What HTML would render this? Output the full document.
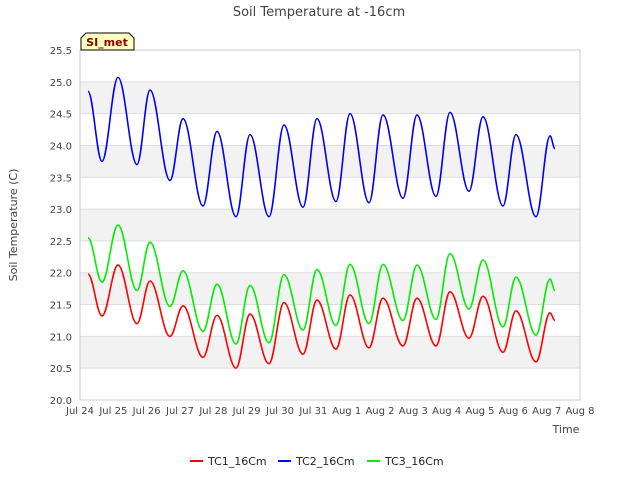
<!DOCTYPE html>
<html><head><meta charset="utf-8"><style>
body{margin:0;background:#fff;}
svg{display:block;font-family:"DejaVu Sans","Liberation Sans",sans-serif;}
</style></head><body>
<svg id="chart" width="640" height="480">
<text x="319" y="16" text-anchor="middle" font-size="13" fill="#444">Soil Temperature at -16cm</text>
<g id="bands"></g><g id="grid"></g>
<rect x="80" y="50" width="500" height="350" fill="none" stroke="#ccc"/>
<g id="series"></g><g id="axes"></g>
<text x="17" y="225" transform="rotate(-90 17 225)" text-anchor="middle" font-size="11" fill="#444">Soil Temperature (C)</text>
<text x="566" y="433" text-anchor="middle" font-size="11" fill="#444">Time</text>
<g>
<path d="M81,50 L81,38 L86,33 L129,33 L134,38 L134,50 Z" fill="#ffffc0" stroke="#000"/>
<text x="107" y="46" text-anchor="middle" font-size="11" font-weight="bold" fill="#8b0000">SI_met</text>
</g>
<g id="legend"></g>
</svg>
<script>
const times=[0.24,0.66,1.14,1.71,2.1,2.7,3.09,3.69,4.11,4.68,5.1,5.67,6.12,6.69,7.11,7.68,8.1,8.67,9.09,9.69,10.11,10.68,11.1,11.67,12.09,12.69,13.08,13.68,14.1,14.25];
const tc1=[21.98,21.32,22.12,21.2,21.87,21.0,21.48,20.67,21.33,20.5,21.35,20.57,21.53,20.72,21.57,20.8,21.65,20.82,21.6,20.85,21.6,20.85,21.7,20.97,21.63,20.75,21.4,20.6,21.37,21.25];
const tc2=[24.85,23.75,25.07,23.7,24.87,23.45,24.42,23.05,24.22,22.88,24.17,22.88,24.32,23.03,24.42,23.12,24.5,23.1,24.48,23.17,24.48,23.2,24.52,23.28,24.45,23.05,24.17,22.88,24.15,23.95];
const tc3=[22.55,21.85,22.75,21.72,22.48,21.47,22.03,21.08,21.82,20.88,21.8,20.9,21.97,21.1,22.05,21.17,22.13,21.2,22.13,21.25,22.12,21.27,22.3,21.43,22.2,21.15,21.93,21.02,21.9,21.72];
const yTicks=[20.0,20.5,21.0,21.5,22.0,22.5,23.0,23.5,24.0,24.5,25.0,25.5];
const xLabels=["Jul 24","Jul 25","Jul 26","Jul 27","Jul 28","Jul 29","Jul 30","Jul 31","Aug 1","Aug 2","Aug 3","Aug 4","Aug 5","Aug 6","Aug 7","Aug 8"];
const seriesNames=["TC1_16Cm","TC2_16Cm","TC3_16Cm"];
const seriesColors=["#ff0000","#0000ff","#00ee00"];
const NS="http://www.w3.org/2000/svg";
const X=d=>80+d*500/15, Y=v=>400-(v-20)*350/5.5;
function mk(t,a,p){const e=document.createElementNS(NS,t);for(const k in a)e.setAttribute(k,a[k]);p.appendChild(e);return e;}
const bands=document.getElementById('bands'),grid=document.getElementById('grid'),axes=document.getElementById('axes');
yTicks.forEach((v,i)=>{
 if(i<yTicks.length-1&&i%2==1){const r=mk('rect',{x:80,y:Y(v+0.5),width:500,height:Y(v)-Y(v+0.5),fill:'#f2f2f2'},bands);
  
  }
 const l=mk('line',{x1:80,x2:580,y1:Y(v),y2:Y(v),stroke:'#ddd'},grid);
 
 
 const t=mk('text',{x:72,y:Y(v)+4,'text-anchor':'end','font-size':10,fill:'#444'},axes);t.textContent=v.toFixed(1);
 
 
});
xLabels.forEach((s,i)=>{
 const t=mk('text',{x:X(i),y:414,'text-anchor':'middle','font-size':10,fill:'#444'},axes);t.textContent=s;
 
 
});
const sg=document.getElementById('series');
[tc1,tc2,tc3].forEach((vals,si)=>{
 let d='M'+X(times[0])+','+Y(vals[0]);
 for(let i=1;i<times.length;i++){const x0=X(times[i-1]),x1=X(times[i]),m=(x1-x0)*0.37;
  d+=` C${x0+m},${Y(vals[i-1])} ${x1-m},${Y(vals[i])} ${x1},${Y(vals[i])}`;}
 const p=mk('path',{d:d,fill:'none',stroke:seriesColors[si],'stroke-width':1.6},sg);
 
 
});
const lg=document.getElementById('legend');
const lx=[190,278,367];
seriesNames.forEach((n,i)=>{
 const g=mk('g',{},lg);
 
 
 mk('line',{x1:lx[i],x2:lx[i]+13,y1:461,y2:461,stroke:seriesColors[i],'stroke-width':2},g);
 const t=mk('text',{x:lx[i]+18,y:465,'font-size':11,fill:'#222'},g);t.textContent=n;
});
</script>
</body></html>
